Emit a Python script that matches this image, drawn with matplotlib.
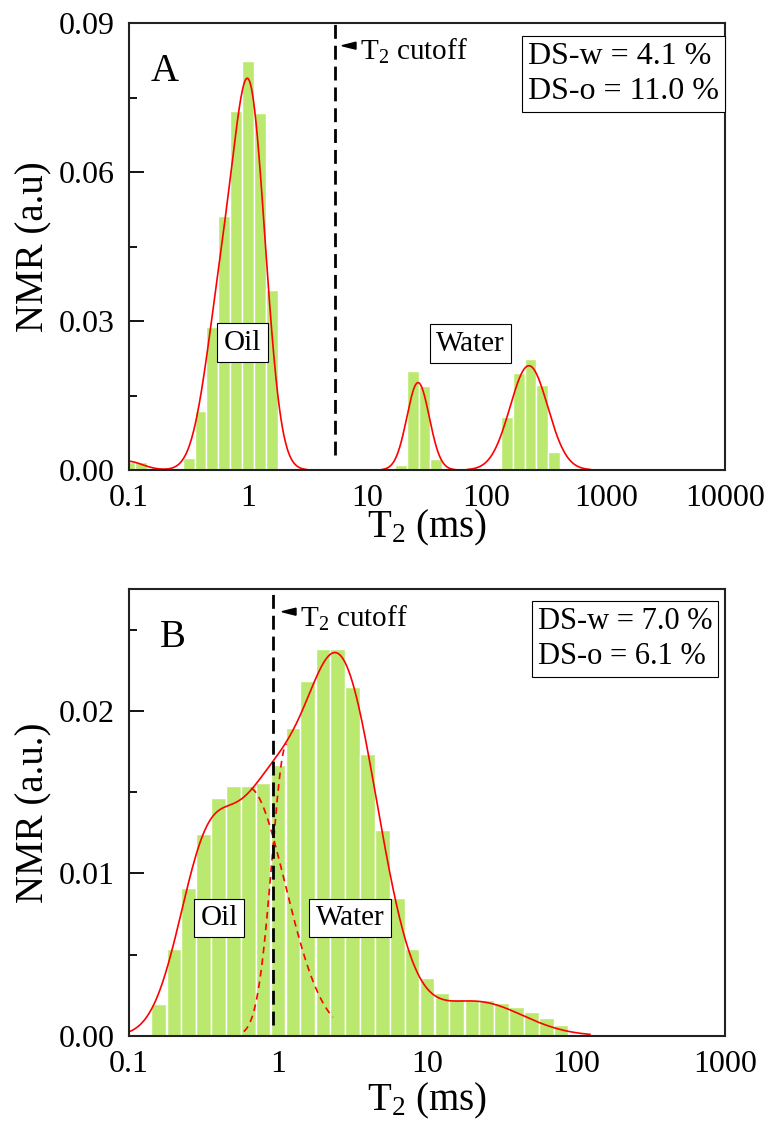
import numpy as np
import matplotlib
matplotlib.use('Agg')
import matplotlib.pyplot as plt
from matplotlib.patches import Polygon
from matplotlib.ticker import FixedLocator, FixedFormatter, MultipleLocator, FormatStrFormatter, NullLocator

plt.rcParams['font.family'] = ['Liberation Serif', 'DejaVu Serif']
plt.rcParams['mathtext.fontset'] = 'custom'
plt.rcParams['mathtext.rm'] = 'Liberation Serif'
plt.rcParams['mathtext.it'] = 'Liberation Serif:italic'

# ---- panel A data: T2 bin centres (ms) and NMR amplitude
t2_a = [0.1, 0.126, 0.317, 0.398, 0.5, 0.631, 0.794, 1.0, 1.26, 1.58,
        19.2, 24.2, 30.1, 37.7, 148, 186, 233, 292, 368]
amp_a = [0.0017, 0.0016, 0.0024, 0.0118, 0.0287, 0.0512, 0.0722, 0.0823, 0.0719, 0.0363,
         0.0010, 0.0199, 0.0169, 0.0023, 0.0106, 0.0195, 0.0223, 0.0171, 0.0036]
# fitted peaks: (height, log10 centre, log10 sigma)
peaks_a = [(0.0018, -1.02, 0.13), (0.033, -0.22, 0.14), (0.070, 0.02, 0.13),
           (0.0176, 1.425, 0.094), (0.021, 2.355, 0.158)]
cutoff_a = 5.35

# ---- panel B data
t2_b = [0.158, 0.2, 0.251, 0.316, 0.398, 0.501, 0.631, 0.794, 1.0, 1.26,
        1.58, 2.0, 2.51, 3.16, 3.98, 5.01, 6.31, 7.94, 10.0, 12.6,
        15.8, 20.0, 25.1, 31.6, 39.8, 50.1, 63.1, 79.4]
amp_b = [0.00194, 0.00537, 0.00911, 0.0124, 0.01463, 0.01538, 0.01538, 0.01555, 0.01665, 0.01895,
         0.02181, 0.02382, 0.02382, 0.02145, 0.01736, 0.01267, 0.0085, 0.00537, 0.00357, 0.00262,
         0.00225, 0.0022, 0.00219, 0.00204, 0.0018, 0.00149, 0.00112, 0.00067]
peaks_b = [(0.0108, -0.48, 0.19), (0.0113, -0.09, 0.21), (0.0228, 0.41, 0.26), (0.0021, 1.33, 0.31)]
# separated oil / water components (dashed), with the log10 range where they show
oil_part_b = (0.0153, -0.2, 0.25, -0.18, 0.37)
water_part_b = (0.018, 0.06, 0.1, -0.23, 0.058)
cutoff_b = 0.93

GREEN = '#bbe96f'
W, H = 765, 1129


def fx(px):
    return px / W


def fy(py):
    return 1 - py / H


def gauss(logt, peaks):
    y = np.zeros_like(logt)
    for h, c, s in peaks:
        y += h * np.exp(-(logt - c) ** 2 / (2 * s ** 2))
    return y


def draw_bars(ax, t2, amp, w=0.0986):
    t2 = np.array(t2)
    left = t2 * 10 ** (-w / 2)
    right = t2 * 10 ** (w / 2)
    ax.bar(left, amp, width=right - left, align='edge', color=GREEN,
           edgecolor='white', linewidth=1.0, zorder=1)


def draw_fit(ax, x, peaks, floor):
    y = gauss(np.log10(x), peaks)
    y[y < floor] = np.nan  # curve sits on the axis there, not drawn
    ax.plot(x, y, color='red', lw=1.2, zorder=3)


def style_axes(ax, xticks, xlabels, ymax, ymajor, yminor):
    ax.set_xscale('log')
    ax.set_xlim(xticks[0], xticks[-1])
    ax.set_ylim(0, ymax)
    ax.xaxis.set_major_locator(FixedLocator(xticks))
    ax.xaxis.set_major_formatter(FixedFormatter(xlabels))
    ax.xaxis.set_minor_locator(NullLocator())
    ax.yaxis.set_major_locator(MultipleLocator(ymajor))
    ax.yaxis.set_minor_locator(MultipleLocator(yminor))
    ax.yaxis.set_major_formatter(FormatStrFormatter('%.2f'))
    ax.tick_params(axis='x', length=0, pad=10, labelsize=23)
    ax.tick_params(axis='y', which='major', direction='in', length=11, width=1.3, pad=10, labelsize=23)
    ax.tick_params(axis='y', which='minor', direction='in', length=6, width=1.3)
    for sp in ax.spines.values():
        sp.set_linewidth(1.5)
        sp.set_color('#222222')
        sp.set_zorder(4)


def box_text(x, y, s, size=21):
    fig.text(fx(x), fy(y), s, fontsize=size, ha='center', va='center',
             bbox=dict(boxstyle='square,pad=0.22', fc='white', ec='black', lw=0.8), zorder=5)


def ds_box(x, y, s, size):
    fig.text(fx(x), fy(y), s, fontsize=size, ha='center', va='center',
             multialignment='left', linespacing=1.3,
             bbox=dict(boxstyle='square,pad=0.18', fc='white', ec='black', lw=0.8))


def cutoff_label(tri_x, tri_y, text_x, base_y):
    tri = Polygon([[fx(tri_x), fy(tri_y)], [fx(tri_x + 14), fy(tri_y - 3.5)],
                   [fx(tri_x + 14), fy(tri_y + 3.5)]], closed=True,
                  transform=fig.transFigure, color='black')
    fig.patches.append(tri)
    fig.text(fx(text_x), fy(base_y), r'T$_\mathregular{2}$ cutoff', fontsize=21,
             ha='left', va='baseline')


fig = plt.figure(figsize=(W / 100, H / 100), dpi=100)

# ---------------- panel A
axA = fig.add_axes([fx(129), fy(470), fx(725) - fx(129), fy(23) - fy(470)])
draw_bars(axA, t2_a, amp_a)
draw_fit(axA, np.logspace(-1, 4, 2000), peaks_a, 0.0001)
axA.vlines(cutoff_a, 0.003, 0.09, colors='black', linestyles=(0, (5, 2.5)), lw=2, zorder=4)
style_axes(axA, [0.1, 1, 10, 100, 1000, 10000], ['0.1', '1', '10', '100', '1000', '10000'],
           0.09, 0.03, 0.015)

fig.text(fx(164.7), fy(81), 'A', fontsize=28, ha='center', va='baseline')
cutoff_label(342, 45.7, 360, 60)
box_text(242.5, 342.5, 'Oil')
box_text(470.5, 343.5, 'Water')
ds_box(623.5, 74, 'DS-w = 4.1 %\nDS-o = 11.0 %', 23)
fig.text(fx(427), fy(537), r'T$_\mathregular{2}$ (ms)', fontsize=28, ha='center', va='baseline')
fig.text(fx(34), fy(246.5), 'NMR (a.u)', fontsize=28, rotation=90, ha='center', va='center')

# ---------------- panel B
axB = fig.add_axes([fx(129), fy(1036), fx(725) - fx(129), fy(589) - fy(1036)])
draw_bars(axB, t2_b, amp_b)
xb = np.logspace(-1, 3, 2000)
lb = np.log10(xb)
for h, c, s, lo, hi in [oil_part_b, water_part_b]:
    m = (lb >= lo) & (lb <= hi)
    axB.plot(xb[m], gauss(lb[m], [(h, c, s)]), color='red', lw=1.2, ls=(0, (4, 3)), zorder=2)
draw_fit(axB, xb, peaks_b, 0.0001)
axB.vlines(cutoff_b, 0.0007, 0.0275, colors='black', linestyles=(0, (5, 2.5)), lw=2, zorder=4)
style_axes(axB, [0.1, 1, 10, 100, 1000], ['0.1', '1', '10', '100', '1000'],
           0.0275, 0.01, 0.005)

fig.text(fx(173), fy(647), 'B', fontsize=28, ha='center', va='baseline')
cutoff_label(282, 611.7, 300, 627)
box_text(219, 918, 'Oil')
box_text(350, 918, 'Water')
ds_box(625, 639, 'DS-w = 7.0 %\nDS-o = 6.1 %', 22)
fig.text(fx(427), fy(1110), r'T$_\mathregular{2}$ (ms)', fontsize=28, ha='center', va='baseline')
fig.text(fx(34), fy(812.5), 'NMR (a.u.)', fontsize=28, rotation=90, ha='center', va='center')

fig.savefig('out.png', dpi=100)
